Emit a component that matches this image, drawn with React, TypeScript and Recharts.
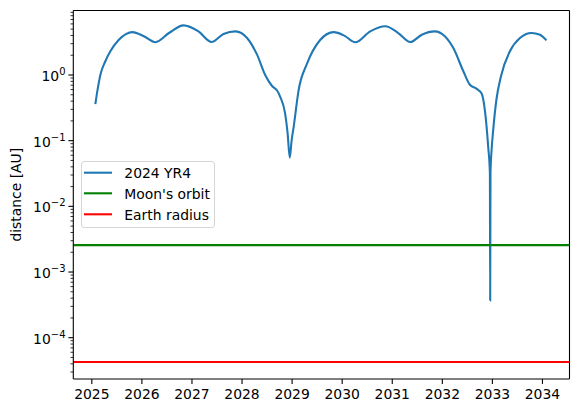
import React from 'react';
import { LineChart, Line, XAxis, YAxis, ReferenceLine, Legend } from 'recharts';

const YEARS = [
  2025.07, 2025.12, 2025.17, 2025.27, 2025.37, 2025.54, 2025.68, 2025.81, 2026.04, 2026.27,
  2026.54, 2026.83, 2027.13, 2027.39, 2027.63, 2027.87, 2028.1, 2028.3, 2028.46, 2028.6,
  2028.7, 2028.76, 2028.86, 2028.91, 2028.953, 2028.99, 2029.03, 2029.13, 2029.3, 2029.56,
  2029.83, 2030.05, 2030.26, 2030.56, 2030.86, 2031.12, 2031.36, 2031.59, 2031.85, 2032.05,
  2032.22, 2032.42, 2032.55, 2032.68, 2032.78, 2032.85, 2032.916, 2032.95, 2032.956, 2032.962,
  2032.984, 2033.016, 2033.08, 2033.17, 2033.35, 2033.55, 2033.78, 2033.95, 2034.08,
];

const DIST = [
  0.36, 0.63, 1.0, 1.62, 2.3, 3.45, 4.2, 4.5, 3.9, 3.16,
  4.36, 5.7, 4.62, 3.18, 4.22, 4.62, 3.66, 2.04, 1.01, 0.68,
  0.58, 0.47, 0.26, 0.13, 0.055, 0.1, 0.16, 0.59, 1.5, 3.41,
  4.5, 3.95, 3.15, 4.62, 5.52, 4.36, 3.18, 4.11, 4.62, 3.9,
  2.57, 1.14, 0.71, 0.62, 0.53, 0.29, 0.081, 0.032, 0.00037, 0.032,
  0.072, 0.145, 0.42, 0.95, 2.3, 3.66, 4.36, 4.11, 3.37,
];

const X_TICKS = [2025, 2026, 2027, 2028, 2029, 2030, 2031, 2032, 2033, 2034];
const Y_MAJOR = [1e-4, 1e-3, 1e-2, 1e-1, 1];
const MOON_ORBIT = 2.57e-3;
const EARTH_RADIUS = 4.26e-5;
const SERIES_NAMES = ['2024 YR4', "Moon's orbit", 'Earth radius'];
const COLORS = ['#1f77b4', '#008000', '#ff0000'];

const X_DOMAIN: [number, number] = [2024.63, 2034.54];
const Y_DOMAIN: [number, number] = [2.35e-5, 9.6];

const Y_MINOR: number[] = [];
for (let k = -5; k <= 0; k++) {
  for (let m = 2; m <= 9; m++) {
    const v = m * Math.pow(10, k);
    if (v >= Y_DOMAIN[0] && v <= Y_DOMAIN[1]) Y_MINOR.push(v);
  }
}
const Y_TICKS = [...Y_MAJOR, ...Y_MINOR].sort((a, b) => a - b);

const PL = 73.3;
const PB = 379;
const FONT = 'DejaVu Sans';

const XTick = (props: any) => {
  const { x, payload } = props;
  return (
    <g>
      <line x1={x} x2={x} y1={PB} y2={PB + 4.9} stroke="#000" strokeWidth={1.1} />
      <text x={x} y={399} textAnchor="middle" fontSize={13.9} fontFamily={FONT} fill="#000">
        {String(payload.value)}
      </text>
    </g>
  );
};

const YTick = (props: any) => {
  const { y, payload } = props;
  const v = payload.value;
  const e = Math.round(Math.log10(v));
  const isMajor = Math.abs(v - Math.pow(10, e)) / v < 1e-6;
  const len = isMajor ? 4.9 : 2.8;
  return (
    <g>
      <line x1={PL} x2={PL - len} y1={y} y2={y} stroke="#000" strokeWidth={isMajor ? 1.1 : 0.8} />
      {isMajor && (
        <text x={65.5} y={y + 6} textAnchor="end" fontSize={13.9} fontFamily={FONT} fill="#000">
          10
          <tspan dy={-6} fontSize={10}>{e < 0 ? '\u2212' + String(-e) : String(e)}</tspan>
        </text>
      )}
    </g>
  );
};

const YLabel = () => (
  <text
    x={16}
    y={194.7}
    transform="rotate(-90 16 194.7)"
    textAnchor="middle"
    dominantBaseline="central"
    fontSize={13.9}
    fontFamily={FONT}
    fill="#000"
  >
    distance [AU]
  </text>
);

const LegendBox = () => (
  <div
    style={{
      width: 134.5,
      height: 67.5,
      boxSizing: 'border-box',
      border: '1px solid #d6d6d6',
      borderRadius: 3,
      background: 'rgba(255,255,255,0.8)',
      position: 'relative',
    }}
  >
    <svg width={134} height={67} style={{ position: 'absolute', left: -0.5, top: -0.5 }}>
      {SERIES_NAMES.map((name, i) => {
        const cy = [11.7, 32.3, 53.3][i];
        const by = [17.3, 38.3, 59][i];
        return (
          <g key={name}>
            <line x1={3} x2={31} y1={cy} y2={cy} stroke={COLORS[i]} strokeWidth={2.08} />
            <text x={43.3} y={by} fontSize={13.9} fontFamily={FONT} fill="#000">
              {name}
            </text>
          </g>
        );
      })}
    </svg>
  </div>
);

export default function App() {
  const data = YEARS.map((x, i) => ({ x, d: DIST[i] }));
  return (
    <div style={{ position: 'absolute', left: 0, top: 0, width: 578, height: 413, background: '#fff' }}>
      <LineChart width={578} height={413} data={data} margin={{ top: 10.5, right: 8.5, bottom: 4, left: 0 }}>
        <XAxis
          dataKey="x"
          type="number"
          domain={X_DOMAIN}
          ticks={X_TICKS}
          allowDataOverflow
          interval={0}
          height={30}
          axisLine={{ stroke: '#000', strokeWidth: 1.1 }}
          tickLine={false}
          tick={<XTick />}
        />
        <YAxis
          type="number"
          scale="log"
          domain={Y_DOMAIN}
          ticks={Y_TICKS}
          allowDataOverflow
          interval={0}
          width={PL}
          axisLine={{ stroke: '#000', strokeWidth: 1.1 }}
          tickLine={false}
          tick={<YTick />}
          label={<YLabel />}
        />
        <ReferenceLine y={Y_DOMAIN[1]} stroke="#000" strokeWidth={1.1} />
        <ReferenceLine x={X_DOMAIN[1]} stroke="#000" strokeWidth={1.1} />
        <Line
          dataKey="d"
          type="monotone"
          stroke={COLORS[0]}
          strokeWidth={2.08}
          dot={false}
          isAnimationActive={false}
        />
        <ReferenceLine y={MOON_ORBIT} stroke={COLORS[1]} strokeWidth={2.08} />
        <ReferenceLine y={EARTH_RADIUS} stroke={COLORS[2]} strokeWidth={2.08} />
        <Legend
          layout="vertical"
          align="center"
          verticalAlign="middle"
          content={<LegendBox />}
          wrapperStyle={{ position: 'absolute', left: 80.5, top: 160.5, width: 134.5, height: 67.5 }}
        />
      </LineChart>
    </div>
  );
}
